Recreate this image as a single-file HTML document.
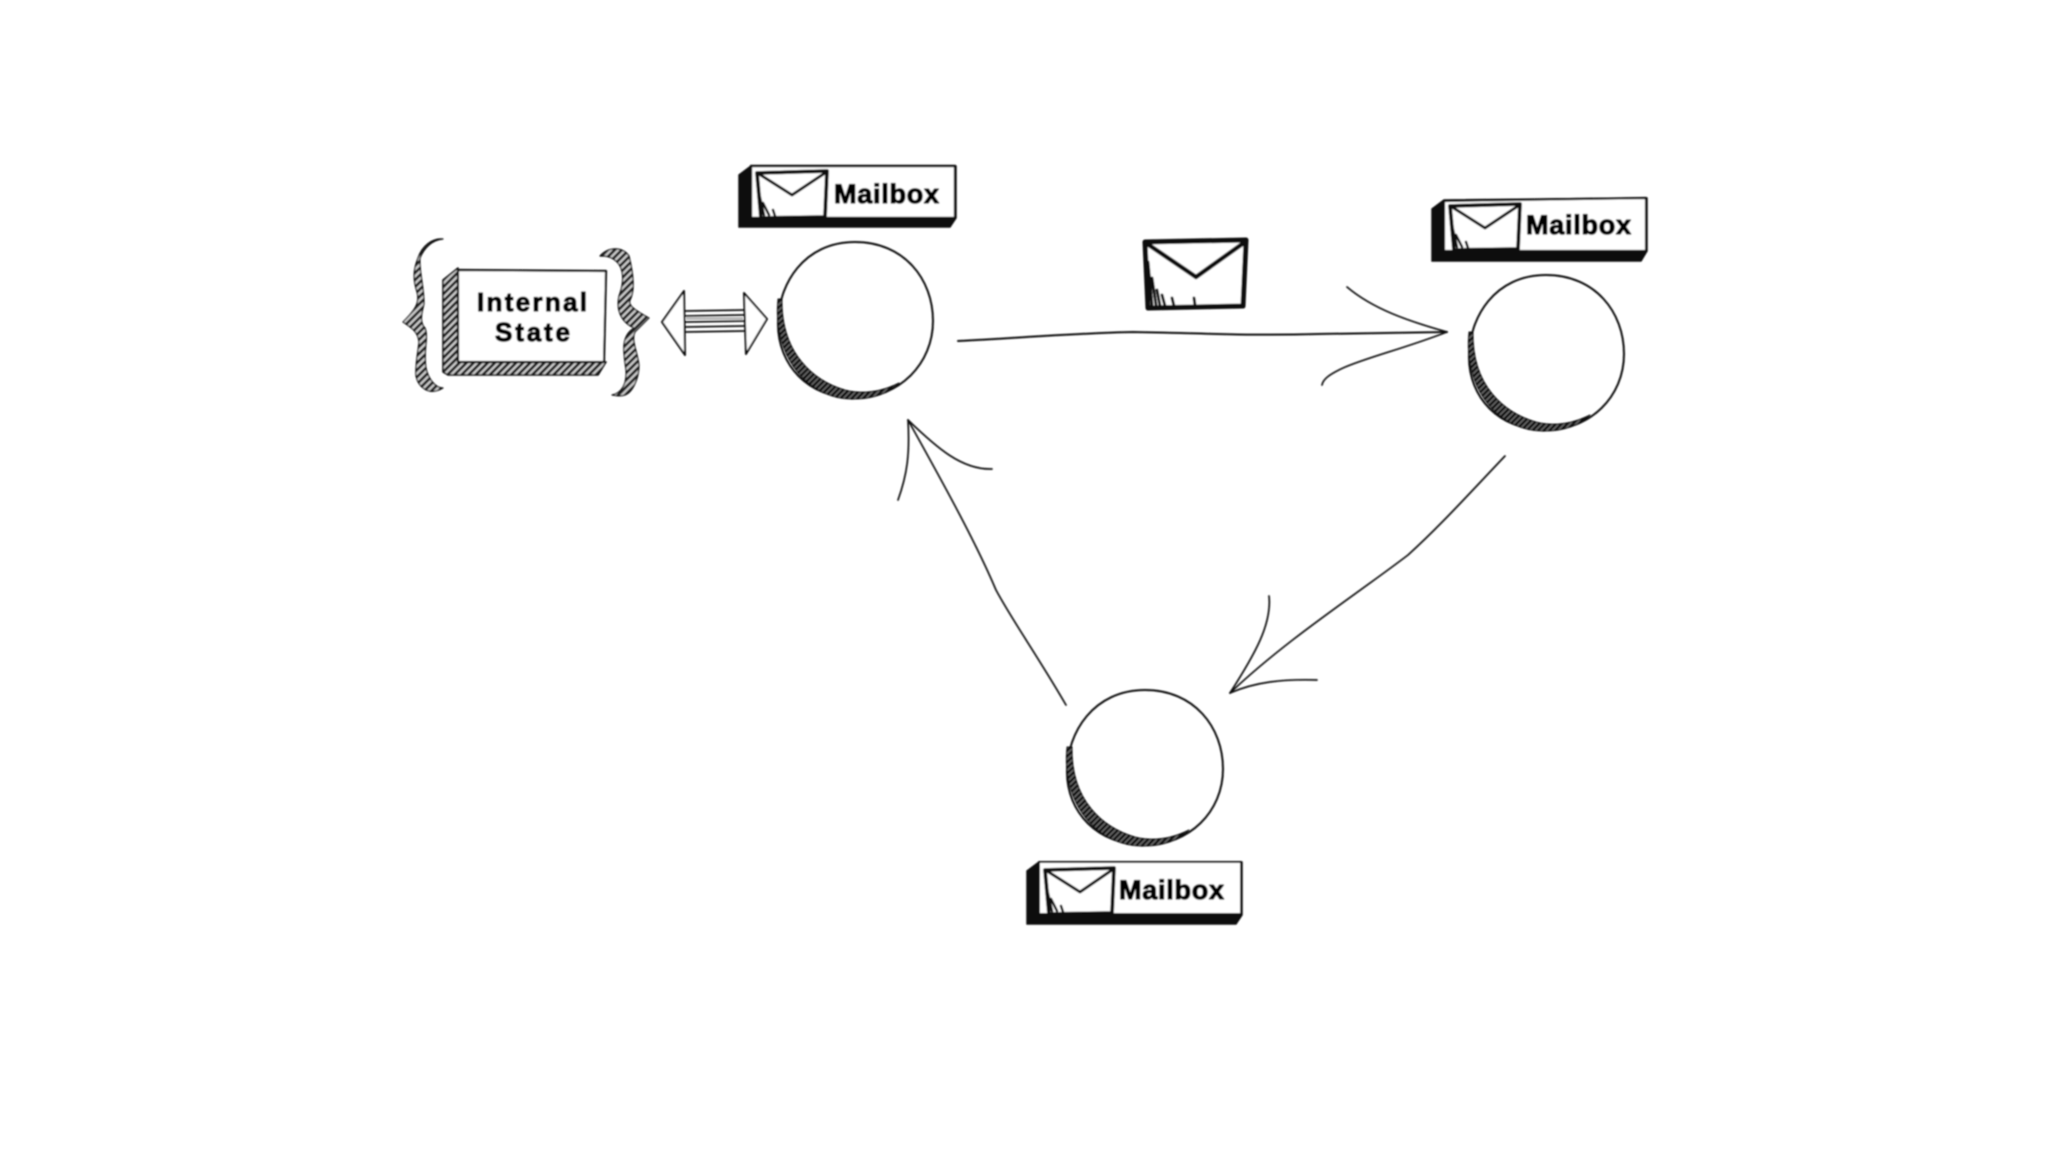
<!DOCTYPE html>
<html>
<head>
<meta charset="utf-8">
<style>
html,body{margin:0;padding:0;background:#fff;width:2048px;height:1152px;overflow:hidden}
svg{display:block}
text{font-family:"Liberation Sans",sans-serif;font-weight:bold;fill:#000;stroke:#000;stroke-width:1.2}
</style>
</head>
<body>
<svg width="2048" height="1152" viewBox="0 0 2048 1152" xmlns="http://www.w3.org/2000/svg">
<defs>
<pattern id="h" width="5" height="5" patternUnits="userSpaceOnUse" patternTransform="rotate(45)">
<rect width="5" height="5" fill="#cfcfcf"/><rect width="2.8" height="5" fill="#1c1c1c"/>
</pattern>
<pattern id="d" width="4" height="4" patternUnits="userSpaceOnUse" patternTransform="rotate(45)">
<rect width="4" height="4" fill="#777"/><rect width="2.8" height="4" fill="#111"/>
</pattern>
<filter id="b" x="-5%" y="-5%" width="110%" height="110%"><feGaussianBlur stdDeviation="0.7"/></filter>
</defs>
<rect width="2048" height="1152" fill="#fff"/>
<g filter="url(#b)" fill="none" stroke="#111" stroke-linecap="round" stroke-linejoin="round">

<!-- Circles -->
<g transform="translate(-1 -1)">
<path d="M779 325C779 285 805 243 856 243C905 243 934 280 934 322C934 365 900 399 856 399C808 399 779 365 779 325Z" stroke-width="2"/>
<path d="M779 300C773 360 812 402 856 400C874 400 890 394 900 384C880 394 862 395 846 391C815 382 782 355 783 300Z" fill="url(#d)" stroke-width="1"/>
</g>
<g transform="translate(-1 -1)">
<path d="M1470 358C1470 318 1496 276 1547 276C1596 276 1625 313 1625 355C1625 398 1591 431 1547 431C1499 431 1470 398 1470 358Z" stroke-width="2"/>
<path d="M1470 333C1464 393 1503 434 1547 432C1565 432 1581 426 1591 416C1571 426 1553 427 1537 423C1506 414 1473 388 1474 333Z" fill="url(#d)" stroke-width="1"/>
</g>
<g transform="translate(1 -1)">
<path d="M1066 773C1066 733 1093 691 1144 691C1193 691 1222 728 1222 770C1222 813 1188 846 1144 846C1096 846 1066 813 1066 773Z" stroke-width="2"/>
<path d="M1066 748C1060 808 1100 849 1144 847C1162 847 1178 841 1188 831C1168 841 1150 842 1134 838C1103 829 1070 803 1071 748Z" fill="url(#d)" stroke-width="1"/>
</g>

<!-- Main arrows -->
<g transform="translate(-2 -1)">
<path d="M960 342C1020 339 1080 334 1135 333C1200 334 1250 337 1320 335C1370 334 1410 334 1449 333" stroke-width="2"/>
<path d="M1349 288C1375 310 1410 322 1449 333" stroke-width="1.7"/>
<path d="M1449 333C1405 350 1370 358 1345 369C1332 375 1325 380 1324 386" stroke-width="1.7"/>
</g>

<g transform="translate(-3 -1)">
<path d="M1508 457C1470 497 1442 528 1411 556C1360 595 1290 640 1233 694" stroke-width="1.7"/>
<path d="M1272 597C1275 625 1258 655 1233 694" stroke-width="1.7"/>
<path d="M1320 681C1285 680 1258 683 1233 694" stroke-width="1.7"/>
</g>

<g transform="translate(-3 0)">
<path d="M1069 705C1040 655 1015 620 999 590C980 545 950 490 911 420" stroke-width="1.7"/>
<path d="M911 420C913 455 910 475 901 500" stroke-width="1.7"/>
<path d="M911 420C940 448 965 470 995 469" stroke-width="1.7"/>
</g>

<!-- Flying envelope -->
<g transform="translate(-3 0)">
<path d="M1148 242L1249 240L1246 306L1151 308Z" fill="#fff" stroke-width="5"/>
<path d="M1149 243L1199 277L1248 242" stroke-width="4.5"/>
<path d="M1151 262L1155 305M1155 278L1159 305M1160 290L1163 306M1165 295L1168 306M1175 298L1177 306M1197 298L1198 305" stroke-width="3"/>
</g>

<!-- Mailbox 1 -->
<g transform="translate(739 165)">
<path d="M12 1H217V53L211 62H0V10Z" fill="#111" stroke-width="1.5"/>
<rect x="12" y="1" width="204" height="52" fill="#fff" stroke-width="2.4"/>
<path d="M18 8L88 6L86 52L22 53Z" stroke-width="3.8"/>
<path d="M20 9L53 30L86 8" stroke-width="3"/>
<path d="M20 28L25 50M24 38L30 50M34 45L36 51" stroke-width="2.6"/>
<text x="95" y="38" font-size="27" textLength="105" lengthAdjust="spacing">Mailbox</text>
</g>

<!-- Mailbox 2 -->
<g transform="translate(1432 197)">
<path d="M12 3L215 1V54L209 64H0V12Z" fill="#111" stroke-width="1.5"/>
<path d="M12 4L214 1V54H12Z" fill="#fff" stroke-width="2.2"/>
<path d="M18 9L88 7L86 52L22 53Z" stroke-width="3.8"/>
<path d="M20 10L53 31L86 9" stroke-width="3"/>
<path d="M20 28L25 50M24 38L30 50M34 45L36 51" stroke-width="2.6"/>
<text x="94" y="37" font-size="27" textLength="105" lengthAdjust="spacing">Mailbox</text>
</g>

<!-- Mailbox 3 -->
<g transform="translate(1027 861)">
<path d="M12 1H215V54L209 63H0V10Z" fill="#111" stroke-width="1.5"/>
<rect x="12" y="1" width="202" height="52" fill="#fff" stroke-width="2"/>
<path d="M18 9L87 7L85 52L22 53Z" stroke-width="3.8"/>
<path d="M20 10L53 31L85 9" stroke-width="3"/>
<path d="M20 28L25 50M24 38L30 50M34 45L36 51" stroke-width="2.6"/>
<text x="92" y="38" font-size="27" textLength="105" lengthAdjust="spacing">Mailbox</text>
</g>

<!-- Internal state box -->
<path d="M458 268L443 280V372L448 375H598L606 362H458Z" fill="url(#h)" stroke-width="1.6"/>
<path d="M458 270L606 271L604 362H458Z" fill="#fff" stroke-width="2.2"/>
<text x="477" y="311" font-size="26" textLength="110" lengthAdjust="spacing">Internal</text>
<text x="495" y="341" font-size="26" textLength="75" lengthAdjust="spacing">State</text>

<!-- Left brace -->
<path d="M443 239C432 238 422 246 418 258C413 270 413 280 417 292C420 303 415 310 403 322C412 328 418 332 419 342C418 352 415 365 416 376C418 386 428 397 443 388C435 388 428 378 426 368C423 350 429 338 425 328C419 322 422 312 424 304C424 285 419 272 420 258C424 248 432 240 443 239Z" fill="url(#h)" stroke-width="1.2"/>

<!-- Right brace -->
<path d="M600 256C609 246 623 247 629 256C633 272 635 288 631 298C627 304 631 308 649 318L635 332C631 340 637 350 639 365C639 378 633 392 625 395C619 397 613 395 612 395C621 393 627 385 626 370C623 350 621 336 634 328C621 322 616 310 619 296C625 280 623 268 617 262C611 256 605 256 600 256Z" fill="url(#h)" stroke-width="1.2"/>

<!-- Double arrow -->
<path d="M662 322L684 291L685 355Z" fill="#fff" stroke-width="2"/>
<path d="M744 293L767 319L746 354Z" fill="#fff" stroke-width="2"/>
<path d="M685 311L744 310M685 316L744 315" stroke-width="1.8"/>
<path d="M685 322L744 321M685 327L744 326M685 332L744 331" stroke-width="1.8"/>
<rect x="686" y="317" width="57" height="3" fill="#bbb" stroke="none"/>
</g>
</svg>
</body>
</html>
